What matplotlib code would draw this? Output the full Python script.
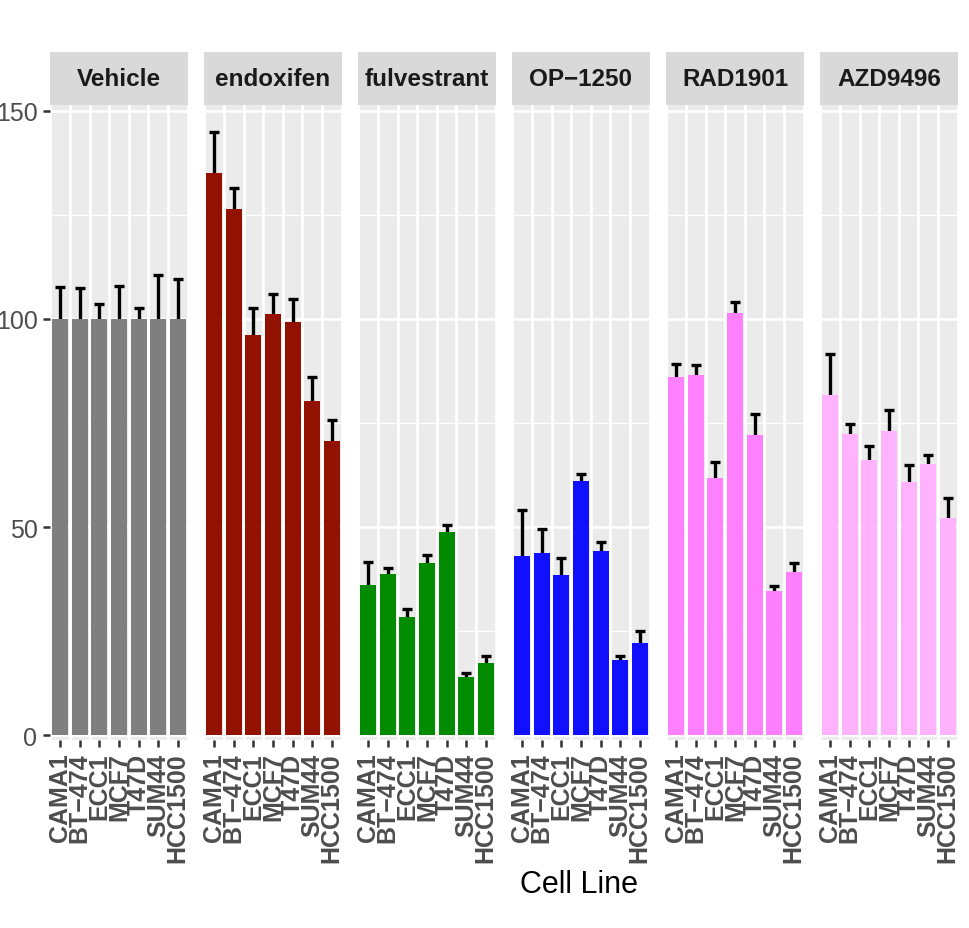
import matplotlib
matplotlib.use("Agg")
import matplotlib.pyplot as plt
import numpy as np

plt.rcParams['font.family'] = ['Liberation Sans', 'DejaVu Sans']

# data
cell_lines = ['CAMA1', 'BT\u2212474', 'ECC1', 'MCF7', 'T47D', 'SUM44', 'HCC1500']
treatments = ['Vehicle', 'endoxifen', 'fulvestrant', 'OP\u22121250', 'RAD1901', 'AZD9496']
colors = ['#7F7F7F', '#921100', '#008B00', '#1010FF', '#FF80FF', '#FFB3FF']

vehicle = [100, 100, 100, 100, 100, 100, 100]
vehicle_err = [107.7, 107.4, 103.5, 107.9, 102.7, 110.6, 109.6]
endoxifen = [135.1, 126.4, 96.2, 101.2, 99.3, 80.3, 70.7]
endoxifen_err = [144.9, 131.5, 102.7, 106.1, 104.7, 86.0, 75.7]
fulvestrant = [36.1, 38.7, 28.4, 41.3, 48.8, 13.9, 17.3]
fulvestrant_err = [41.5, 40.1, 30.3, 43.3, 50.4, 14.9, 18.9]
op1250 = [43.0, 43.8, 38.5, 61.1, 44.2, 18.0, 22.1]
op1250_err = [54.1, 49.5, 42.6, 62.7, 46.4, 19.1, 24.9]
rad1901 = [86.1, 86.5, 61.8, 101.4, 72.1, 34.6, 39.2]
rad1901_err = [89.1, 88.9, 65.7, 104.0, 77.2, 35.9, 41.4]
azd9496 = [81.7, 72.4, 66.1, 73.1, 60.8, 65.1, 52.2]
azd9496_err = [91.7, 74.8, 69.4, 78.1, 65.0, 67.2, 56.9]

values = [vehicle, endoxifen, fulvestrant, op1250, rad1901, azd9496]
uppers = [vehicle_err, endoxifen_err, fulvestrant_err, op1250_err, rad1901_err, azd9496_err]

W, H = 969, 929
fig = plt.figure(figsize=(W / 100, H / 100), dpi=100)

lefts = [50, 204, 358, 512, 666, 820]
pw = 138
ptop, pbot = 106, 741
stop = 53

x = np.arange(1, 8)
for k, tr in enumerate(treatments):
    ax = fig.add_axes([lefts[k] / W, 1 - pbot / H, pw / W, (pbot - ptop) / H])
    ax.set_facecolor('#EBEBEB')
    for s in ax.spines.values():
        s.set_visible(False)
    # grid
    for yv in [25, 75, 125]:
        ax.axhline(yv, color='white', lw=1.0, zorder=0.5)
    for yv in [0, 50, 100, 150]:
        ax.axhline(yv, color='white', lw=1.8, zorder=0.5)
    for xv in np.arange(0.5, 8.0, 1.0):
        ax.axvline(xv, color='white', lw=2.0, zorder=0.5)

    v = np.array(values[k])
    up = np.array(uppers[k])
    # symmetric error bars drawn under the bars, so only the top half shows
    ax.errorbar(x, v, yerr=up - v, fmt='none', ecolor='black',
                elinewidth=2.4, capsize=3.5, capthick=2.4, zorder=1)
    ax.bar(x, v, width=0.82, color=colors[k], zorder=2)

    ax.set_xlim(0.48, 7.52)
    ax.set_ylim(-1.2, 151.44)
    ax.set_xticks(x)
    ax.set_xticklabels(cell_lines, rotation=90, fontsize=18, fontweight='bold', color='#4D4D4D')
    ax.tick_params(axis='both', length=5, width=1.8, color='#333333', pad=4)
    ax.set_yticks([0, 50, 100, 150])
    if k == 0:
        ax.set_yticklabels(['0', '50', '100', '150'], fontsize=18, color='#4D4D4D')
    else:
        ax.tick_params(axis='y', length=0)
        ax.set_yticklabels([])

    sax = fig.add_axes([lefts[k] / W, 1 - ptop / H, pw / W, (ptop - stop) / H])
    sax.set_facecolor('#D9D9D9')
    sax.set_xticks([])
    sax.set_yticks([])
    for s in sax.spines.values():
        s.set_visible(False)
    sax.text(0.5, 0.5, tr, ha='center', va='center', fontsize=17.5, fontweight='bold',
             color='#1A1A1A', transform=sax.transAxes)

fig.text(579 / W, 1 - 885 / H, 'Cell Line', ha='center', va='center', fontsize=22, color='black')

fig.savefig('out.png', dpi=100)
